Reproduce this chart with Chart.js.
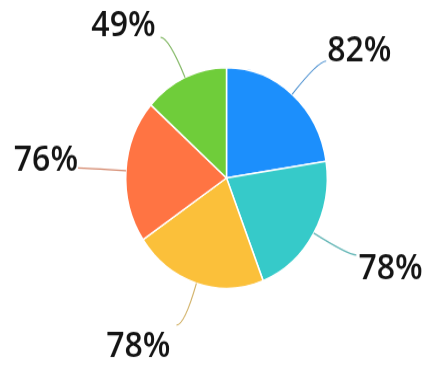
<!DOCTYPE html>
<html>
<head>
<meta charset="utf-8">
<script src="https://cdn.jsdelivr.net/npm/chart.js@4"></script>
<style>
  html, body { margin: 0; padding: 0; background: #fff; overflow: hidden; }
  #wrap { width: 428px; height: 369px; }
  /* the reference pie is slightly taller than wide */
  #pieChart { transform: scaleY(1.095); transform-origin: 0 0; }
</style>
</head>
<body>
<div id="wrap"><canvas id="pieChart" width="428" height="337"></canvas></div>
<script>
const categories = ['A', 'B', 'C', 'D', 'E'];
const values = [82, 78, 78, 76, 49];
const percentLabels = ['82%', '78%', '78%', '76%', '49%'];
const sliceColors = ['#1c8ffc', '#36cac9', '#fbc03a', '#ff7443', '#6fcd3a'];

// leader lines are the slice colour washed towards grey
function leaderColor(hex) {
    const n = parseInt(hex.slice(1), 16);
    const mix = c => Math.round(c * 0.55 + 160 * 0.45);
    return 'rgb(' + mix(n >> 16) + ',' + mix((n >> 8) & 255) + ',' + mix(n & 255) + ')';
}

// leader line + outside label, laid out from each arc's own geometry
const outsideLabels = {
    id: 'outsideLabels',
    afterDatasetsDraw(chart, args, opts) {
        const ctx = chart.ctx;
        const meta = chart.getDatasetMeta(0);
        meta.data.forEach((arc, i) => {
            const p = arc.getProps(['x', 'y', 'startAngle', 'endAngle', 'outerRadius'], true);
            const mid = (p.startAngle + p.endAngle) / 2;
            const cos = Math.cos(mid), sin = Math.sin(mid);
            const right = cos >= 0;
            const sx = p.x + cos * p.outerRadius, sy = p.y + sin * p.outerRadius;
            const ex = p.x + cos * (p.outerRadius + opts.length), ey = p.y + sin * (p.outerRadius + opts.length);
            const tx = ex + (right ? opts.length2 : -opts.length2);

            ctx.save();
            ctx.strokeStyle = leaderColor(sliceColors[i]);
            ctx.lineWidth = 1.2;
            ctx.beginPath();
            ctx.moveTo(sx, sy);
            ctx.quadraticCurveTo(ex, ey, tx, ey);
            ctx.stroke();

            ctx.fillStyle = '#141414';
            ctx.font = opts.font;
            ctx.textBaseline = 'middle';
            ctx.textAlign = right ? 'left' : 'right';
            const off = opts.offsets[i];
            ctx.fillText(percentLabels[i], tx + (right ? 2 : -2) + off[0], ey + off[1]);
            ctx.restore();
        });
    }
};

new Chart(document.getElementById('pieChart'), {
    type: 'pie',
    data: {
        labels: categories,
        datasets: [{
            data: values,
            backgroundColor: sliceColors,
            borderColor: '#ffffff',
            borderWidth: 1.5
        }]
    },
    options: {
        responsive: false,
        animation: false,
        layout: { padding: { left: 125, right: 100, top: 61, bottom: 73 } },
        plugins: {
            legend: { display: false },
            tooltip: { enabled: false },
            outsideLabels: {
                length: 40,
                length2: 8,
                font: '600 32px "Open Sans"',
                offsets: [[-1, -9], [0, 13], [-4, 20], [2, -6], [-3, -10]]
            }
        }
    },
    plugins: [outsideLabels]
});
</script>
</body>
</html>
